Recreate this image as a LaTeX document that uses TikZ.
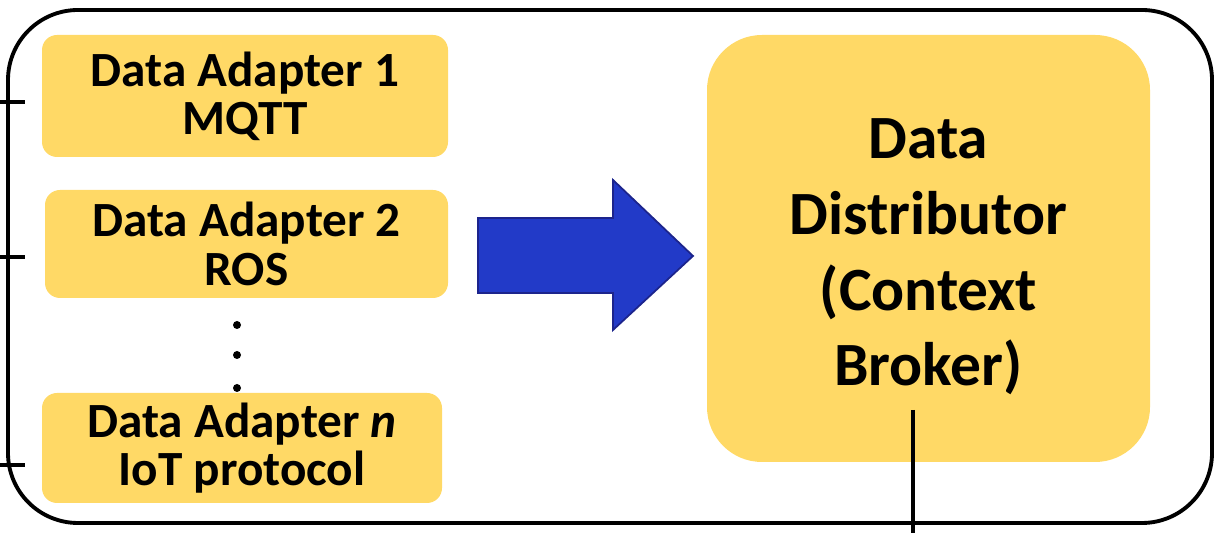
\documentclass[tikz,border=0pt]{standalone}
\usepackage{fontspec}
\setmainfont{Carlito}
\usepackage{tikz}
\usepackage{xcolor}
\usetikzlibrary{positioning,calc}
\definecolor{adaptgold}{RGB}{255,217,102}
\definecolor{flowblue}{RGB}{34,58,200}
\definecolor{flowedge}{RGB}{28,36,140}

\begin{document}
\begin{tikzpicture}[
    adapter/.style={fill=adaptgold,rounded corners=0.3cm,align=center,inner sep=0pt,
        font=\fontsize{28}{27.5}\selectfont\bfseries},
    broker/.style={fill=adaptgold,rounded corners=1.1cm,inner sep=0pt},
    wire/.style={line width=2.2pt}
]
    \useasboundingbox (0,0) rectangle (24.42,10.66);

    % Infrastructure frame
    \node[draw,wire,rounded corners=1.4cm,minimum width=24.08cm,minimum height=10.26cm] (infra) at (12.2,5.33) {};

    % Data adapters
    \node[adapter,minimum width=8.12cm,minimum height=2.44cm] (ad1) at (4.9,8.74) {Data Adapter 1\\MQTT};
    \node[adapter,minimum width=8.06cm,minimum height=2.16cm] (ad2) at (4.93,5.78) {Data Adapter 2\\ROS};
    \node[adapter,minimum width=8.0cm,minimum height=2.2cm] (adn) at (4.84,1.70) {Data Adapter \textit{n}\\IoT protocol};
    \foreach \y in {4.16,3.56,2.9}
        \fill (4.74,\y) circle (0.08);

    % Inputs on the left side
    \foreach \y/\n in {8.62/1,5.52/2,1.36/3} {
        \coordinate (in\n) at (0,\y);
        \draw[wire] (in\n) -- ++(0.5,0);
    }

    % Data distributor
    \node[broker,minimum width=8.86cm,minimum height=8.54cm] (dist) at (18.57,5.69) {};
    \node[align=center,font=\fontsize{35}{43}\selectfont\bfseries] (distlabel)
        at ([yshift=-0.17cm]dist.center) {Data\\Distributor\\(Context\\Broker)};

    % Block arrow
    \draw[flowedge,fill=flowblue,line width=1pt,line join=miter]
        (9.56,6.3) -- (12.26,6.3) -- (12.26,7.06) -- (13.86,5.54)
        -- (12.26,4.06) -- (12.26,4.8) -- (9.56,4.8) -- cycle;

    % Output line
    \coordinate (out0) at (18.26,2.46);
    \coordinate (out1) at (18.26,0);
    \draw[wire] (out0) -- (out1);
\end{tikzpicture}
\end{document}
